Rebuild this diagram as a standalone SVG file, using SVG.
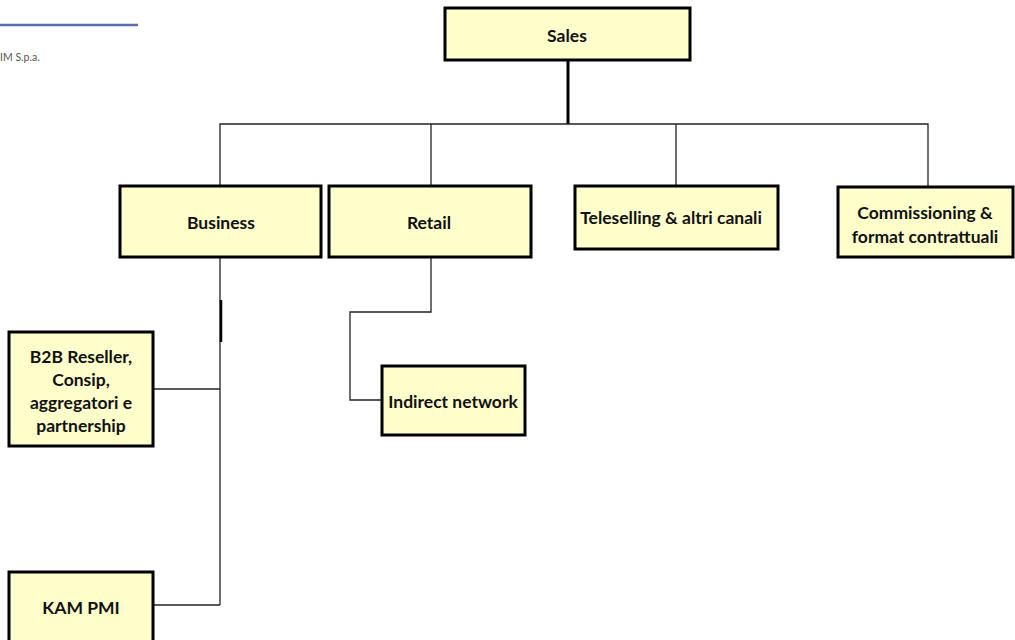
<svg xmlns="http://www.w3.org/2000/svg" width="1015" height="640" viewBox="0 0 1015 640">
<style>
.box{fill:#FFFFCC;stroke:#000;stroke-width:3}
.t{font-family:Lato,"Open Sans",sans-serif;font-weight:bold;font-size:17.5px;fill:#111;text-anchor:middle;dominant-baseline:central}
.c{fill:none;stroke:#222;stroke-width:1.3}
</style>
<rect width="1015" height="640" fill="#fff"/>
<g id="logo">
<line x1="0" y1="25" x2="138" y2="25" stroke="#5a6fb0" stroke-width="2.5"/>
<text x="0" y="57" font-family="Lato,sans-serif" font-size="10.5" fill="#555" dominant-baseline="central">IM S.p.a.</text>
</g>
<g id="connectors">
<line x1="568" y1="60" x2="568" y2="124" stroke="#000" stroke-width="3"/>
<polyline class="c" points="220,186 220,124 928,124 928,187"/>
<line class="c" x1="431" y1="124" x2="431" y2="186"/>
<line class="c" x1="676" y1="124" x2="676" y2="186"/>
<line class="c" x1="220" y1="257" x2="220" y2="605"/>
<line x1="221" y1="300" x2="221" y2="342" stroke="#000" stroke-width="2.5"/>
<line class="c" x1="153" y1="389" x2="220" y2="389"/>
<line class="c" x1="153" y1="605" x2="220" y2="605"/>
<polyline class="c" points="431,257 431,312 350,312 350,400 382,400"/>
</g>
<g id="sales"><rect class="box" x="445" y="8" width="245" height="52"/><text class="t" x="567" y="35">Sales</text></g>
<g id="business"><rect class="box" x="120" y="186" width="201" height="71"/><text class="t" x="221" y="222">Business</text></g>
<g id="retail"><rect class="box" x="329" y="186" width="202" height="71"/><text class="t" x="429" y="222">Retail</text></g>
<g id="teleselling"><rect class="box" x="575" y="186" width="203" height="63"/><text class="t" x="671" y="217">Teleselling &amp; altri canali</text></g>
<g id="commissioning"><rect class="box" x="838" y="187" width="175" height="70"/><text class="t" x="925" y="212">Commissioning &amp;</text><text class="t" x="925" y="236">format contrattuali</text></g>
<g id="b2b"><rect class="box" x="9" y="332" width="144" height="114"/><text class="t" x="81" y="356">B2B Reseller,</text><text class="t" x="81" y="379">Consip,</text><text class="t" x="81" y="402">aggregatori e</text><text class="t" x="81" y="425">partnership</text></g>
<g id="indirect"><rect class="box" x="382" y="366" width="143" height="69"/><text class="t" x="453" y="401">Indirect network</text></g>
<g id="kam"><rect class="box" x="9" y="572" width="144" height="72"/><text class="t" x="81" y="607">KAM PMI</text></g>
</svg>
